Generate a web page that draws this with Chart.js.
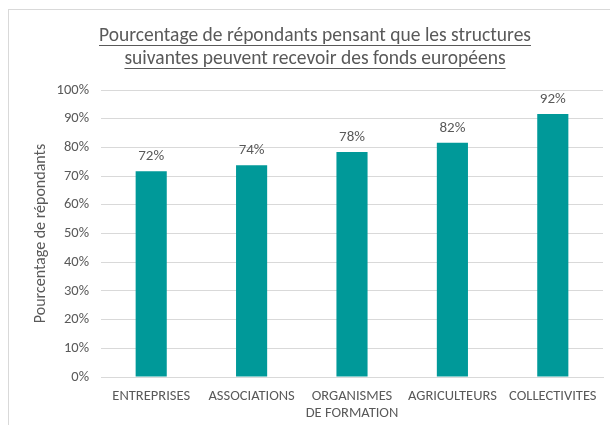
<!DOCTYPE html>
<html>
<head>
<meta charset="utf-8">
<script src="https://cdn.jsdelivr.net/npm/chart.js@4/dist/chart.umd.min.js"></script>
<style>
    html, body { margin: 0; padding: 0; background: #fff; }
    #wrap { width: 610px; height: 425px; position: relative; }
</style>
</head>
<body>
<div id="wrap"><canvas id="chart"></canvas></div>
<script>
// Chart data
const categories = ['ENTREPRISES', 'ASSOCIATIONS', ['ORGANISMES', 'DE FORMATION'], 'AGRICULTEURS', 'COLLECTIVITES'];
const shares = [71.7, 73.8, 78.4, 81.6, 91.6];
const yTicks = [0, 10, 20, 30, 40, 50, 60, 70, 80, 90, 100];
const titleLines = ['Pourcentage de répondants pensant que les structures', 'suivantes peuvent recevoir des fonds européens'];

const FONT = "Carlito, Calibri, 'Liberation Sans', sans-serif";
const GREY = '#595959';

// frame + underlined title
const decorPlugin = {
    id: 'decor',
    beforeDraw(chart) {
        const ctx = chart.ctx;
        ctx.save();
        ctx.strokeStyle = '#d9d9d9';
        ctx.lineWidth = 1;
        ctx.strokeRect(8.5, 9.5, 700, 500);
        ctx.restore();
    },
    afterDraw(chart) {
        const ctx = chart.ctx;
        ctx.save();
        ctx.font = '19.5px ' + FONT;
        ctx.fillStyle = GREY;
        ctx.strokeStyle = GREY;
        ctx.textAlign = 'center';
        ctx.textBaseline = 'alphabetic';
        const cx = 315;
        titleLines.forEach((line, i) => {
            const y = 41 + i * 23;
            ctx.fillText(line, cx, y);
            const w = ctx.measureText(line).width;
            ctx.beginPath();
            ctx.lineWidth = 1;
            ctx.moveTo(cx - w / 2, y + 4.5);
            ctx.lineTo(cx + w / 2, y + 4.5);
            ctx.stroke();
        });
        ctx.restore();
    }
};

// value labels above bars
const valueLabels = {
    id: 'valueLabels',
    afterDatasetsDraw(chart) {
        const ctx = chart.ctx;
        const meta = chart.getDatasetMeta(0);
        ctx.save();
        ctx.font = '15px ' + FONT;
        ctx.fillStyle = GREY;
        ctx.textAlign = 'center';
        ctx.textBaseline = 'bottom';
        meta.data.forEach((bar, i) => {
            ctx.fillText(Math.round(shares[i]) + '%', bar.x, bar.y - 7);
        });
        ctx.restore();
    }
};

new Chart(document.getElementById('chart'), {
    type: 'bar',
    data: {
        labels: categories,
        datasets: [{
            data: shares,
            backgroundColor: '#009999',
            borderWidth: 0,
            barPercentage: 0.62,
            categoryPercentage: 0.5
        }]
    },
    options: {
        responsive: true,
        maintainAspectRatio: false,
        animation: false,
        layout: { padding: { top: 90, right: 7, left: 0, bottom: 0 } },
        plugins: {
            legend: { display: false },
            tooltip: { enabled: false }
        },
        scales: {
            x: {
                grid: { display: false, drawTicks: false },
                border: { color: '#d9d9d9' },
                ticks: {
                    color: GREY,
                    font: { family: FONT, size: 14.5, lineHeight: 1.15 },
                    padding: 11,
                    maxRotation: 0,
                    autoSkip: false
                },
                afterFit(s) { s.height = 48; }
            },
            y: {
                min: 0,
                max: 100,
                afterBuildTicks(s) { s.ticks = yTicks.map(v => ({ value: v })); },
                grid: { color: '#d9d9d9', drawTicks: false },
                border: { display: false },
                ticks: {
                    color: GREY,
                    font: { family: FONT, size: 14.5 },
                    padding: 12,
                    callback: v => v + '%'
                },
                title: {
                    display: true,
                    text: 'Pourcentage de répondants',
                    color: GREY,
                    font: { family: FONT, size: 16 },
                    padding: { top: 31, bottom: 0 }
                },
                afterFit(s) { s.width = 101; }
            }
        }
    },
    plugins: [decorPlugin, valueLabels]
});
</script>
</body>
</html>
